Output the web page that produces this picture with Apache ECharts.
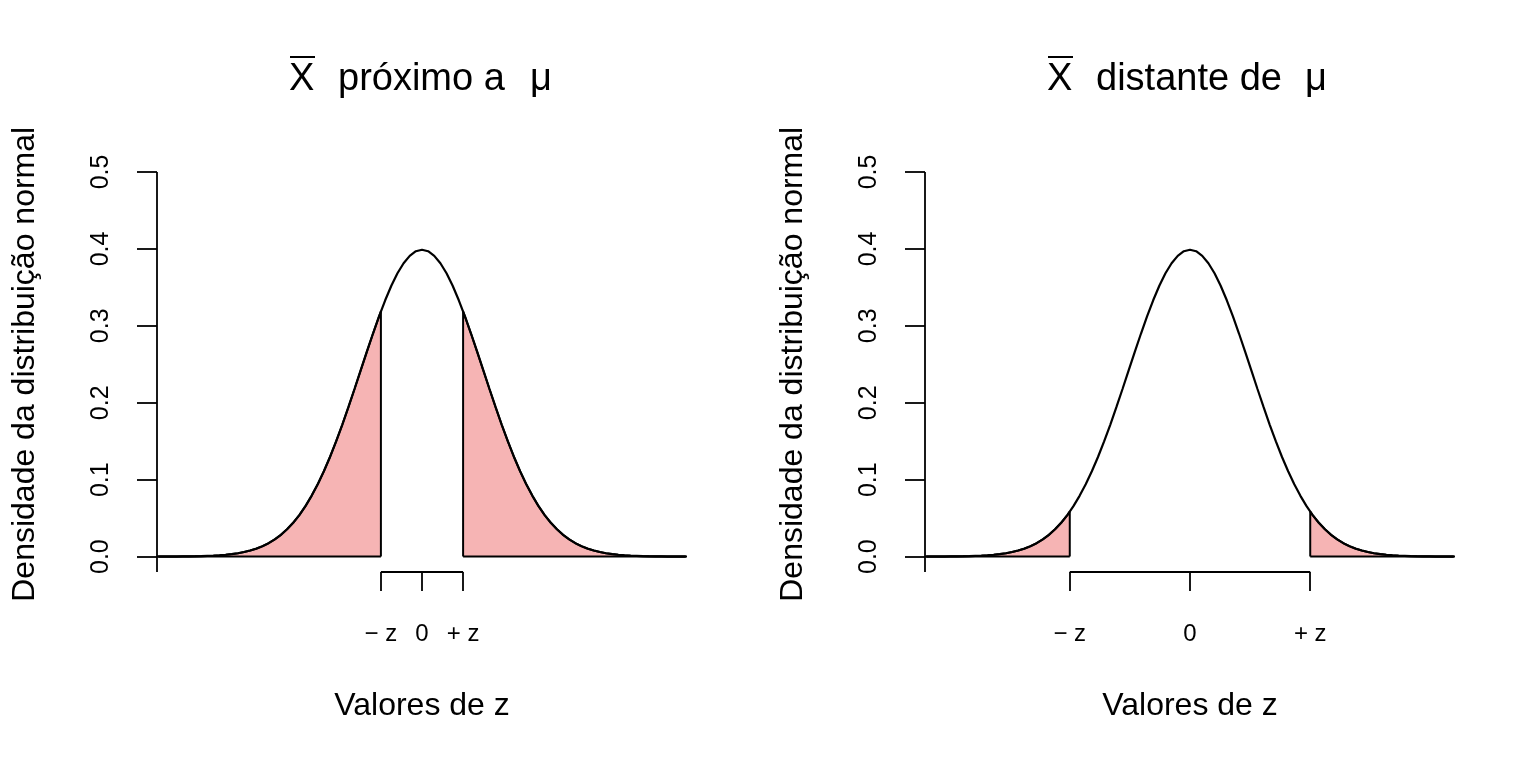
<!DOCTYPE html>
<html>
<head>
<meta charset="utf-8">
<title>Densidade normal</title>
<script src="https://cdn.jsdelivr.net/npm/echarts@6.0.0/dist/echarts.min.js"></script>
<style>
    html, body { margin: 0; padding: 0; background: #fff; }
    #chart { width: 1536px; height: 768px; }
</style>
</head>
<body>
<div id="chart"></div>
<script>
// valores de z e densidade (passo 0.1)
var zValues = [
    -4.3, -4.2, -4.1, -4.0, -3.9, -3.8, -3.7, -3.6, -3.5, -3.4, -3.3, -3.2, -3.1, -3.0,
    -2.9, -2.8, -2.7, -2.6, -2.5, -2.4, -2.3, -2.2, -2.1, -2.0, -1.9, -1.8, -1.7, -1.6,
    -1.5, -1.4, -1.3, -1.2, -1.1, -1.0, -0.9, -0.8, -0.7, -0.6, -0.5, -0.4, -0.3, -0.2,
    -0.1, 0.0, 0.1, 0.2, 0.3, 0.4, 0.5, 0.6, 0.7, 0.8, 0.9, 1.0, 1.1, 1.2, 1.3, 1.4,
    1.5, 1.6, 1.7, 1.8, 1.9, 2.0, 2.1, 2.2, 2.3, 2.4, 2.5, 2.6, 2.7, 2.8, 2.9, 3.0,
    3.1, 3.2, 3.3, 3.4, 3.5, 3.6, 3.7, 3.8, 3.9, 4.0, 4.1, 4.2, 4.3
];
var density = [
    0.0000, 0.0001, 0.0001, 0.0001, 0.0002, 0.0003, 0.0004, 0.0006, 0.0009, 0.0012, 0.0017, 0.0024, 0.0033, 0.0044,
    0.0060, 0.0079, 0.0104, 0.0136, 0.0175, 0.0224, 0.0283, 0.0355, 0.0440, 0.0540, 0.0656, 0.0790, 0.0940, 0.1109,
    0.1295, 0.1497, 0.1714, 0.1942, 0.2179, 0.2420, 0.2661, 0.2897, 0.3123, 0.3332, 0.3521, 0.3683, 0.3814, 0.3910,
    0.3970, 0.3989, 0.3970, 0.3910, 0.3814, 0.3683, 0.3521, 0.3332, 0.3123, 0.2897, 0.2661, 0.2420, 0.2179, 0.1942, 0.1714, 0.1497,
    0.1295, 0.1109, 0.0940, 0.0790, 0.0656, 0.0540, 0.0440, 0.0355, 0.0283, 0.0224, 0.0175, 0.0136, 0.0104, 0.0079, 0.0060, 0.0044,
    0.0033, 0.0024, 0.0017, 0.0012, 0.0009, 0.0006, 0.0004, 0.0003, 0.0002, 0.0001, 0.0001, 0.0001, 0.0000
];
// pontos de corte (z) de cada painel e a densidade nesse ponto
var cutZ = [0.67, 1.96];
var cutDensity = [0.3187, 0.0584];
var panelTitles = ['próximo a', 'distante de'];
var yTicks = [0, 0.1, 0.2, 0.3, 0.4, 0.5];
var yTickLabels = ['0.0', '0.1', '0.2', '0.3', '0.4', '0.5'];
var xTickLabels = ['\u2212 z', '0', '+ z'];

var FONT = '"Liberation Sans", Arial, Helvetica, sans-serif';
var PINK = '#F6B4B4';
// limites da regiao do grafico (estilo R, com 4% de folga)
var X_MIN = -4.32, X_MAX = 4.32, Y_MIN = -0.02, Y_MAX = 0.52;
var Y_AXIS_TOP = 0.5;

var chart = echarts.init(document.getElementById('chart'), null, {renderer: 'canvas'});

function curveData() {
    var out = [];
    for (var i = 0; i < zValues.length; i++) {
        out.push([zValues[i], density[i]]);
    }
    return out;
}

function tailData(p, side) {
    var z = cutZ[p], d = cutDensity[p];
    var out = [];
    if (side < 0) {
        for (var i = 0; i < zValues.length; i++) {
            if (zValues[i] < -z) out.push([zValues[i], density[i]]);
        }
        out.push([-z, d]);
        out.push([-z, 0]);
    } else {
        out.push([z, 0]);
        out.push([z, d]);
        for (var j = 0; j < zValues.length; j++) {
            if (zValues[j] > z) out.push([zValues[j], density[j]]);
        }
    }
    return out;
}

function blackLine(p, data, width) {
    return {
        type: 'line', xAxisIndex: p, yAxisIndex: p, data: data,
        symbol: 'none', silent: true, clip: false,
        lineStyle: {color: '#000', width: width}
    };
}

function titleText(x, y, text) {
    return {
        type: 'text', x: x, y: y,
        style: {
            text: text, font: '38px ' + FONT, fill: '#000',
            textAlign: 'left', textVerticalAlign: 'middle'
        }
    };
}

var grids = [], xAxes = [], yAxes = [], series = [], graphics = [];

for (var p = 0; p < 2; p++) {
    var offset = p * 768;
    var z = cutZ[p];
    grids.push({left: 157 + offset, top: 156.6, width: 530, height: 415.4});

    xAxes.push({
        type: 'value', gridIndex: p, min: X_MIN, max: X_MAX,
        splitLine: {show: false},
        axisLine: {show: false, onZero: false},
        axisTick: {
            show: true, inside: false, length: 19, customValues: [-z, 0, z],
            lineStyle: {color: '#000', width: 1.8}
        },
        axisLabel: {
            show: true, customValues: [-z, 0, z], margin: 50,
            fontFamily: FONT, fontSize: 24, color: '#000',
            formatter: (function (zz) {
                return function (v) {
                    if (Math.abs(v + zz) < 1e-6) return xTickLabels[0];
                    if (Math.abs(v - zz) < 1e-6) return xTickLabels[2];
                    return xTickLabels[1];
                };
            })(z)
        },
        name: 'Valores de z', nameLocation: 'middle', nameGap: 118,
        nameTextStyle: {fontFamily: FONT, fontSize: 32, color: '#000'}
    });

    yAxes.push({
        type: 'value', gridIndex: p, min: Y_MIN, max: Y_MAX,
        splitLine: {show: false},
        axisLine: {show: false, onZero: false},
        axisTick: {
            show: true, inside: false, length: 20, customValues: yTicks,
            lineStyle: {color: '#000', width: 1.8}
        },
        axisLabel: {
            show: true, customValues: yTicks, rotate: 90, margin: 43,
            fontFamily: FONT, fontSize: 25, color: '#000',
            formatter: function (v) {
                var k = Math.round(v * 10);
                return yTickLabels[k];
            }
        },
        name: 'Densidade da distribuição normal', nameLocation: 'middle', nameRotate: 90, nameGap: 116,
        nameTextStyle: {fontFamily: FONT, fontSize: 32, color: '#000'}
    });

    // eixo y: linha do fundo da regiao ate 0.5
    series.push(blackLine(p, [[X_MIN, Y_MIN], [X_MIN, Y_AXIS_TOP]], 1.8));

    // caudas sombreadas
    series.push({
        type: 'line', xAxisIndex: p, yAxisIndex: p, data: tailData(p, -1),
        symbol: 'none', silent: true,
        lineStyle: {color: '#000', width: 2},
        areaStyle: {color: PINK, opacity: 1}
    });
    series.push({
        type: 'line', xAxisIndex: p, yAxisIndex: p, data: tailData(p, 1),
        symbol: 'none', silent: true,
        lineStyle: {color: '#000', width: 2},
        areaStyle: {color: PINK, opacity: 1}
    });
    // base das caudas (nao ha linha entre -z e +z)
    series.push(blackLine(p, [[X_MIN, 0], [-z, 0]], 2));
    series.push(blackLine(p, [[z, 0], [X_MAX, 0]], 2));
    // curva normal
    series.push(blackLine(p, curveData(), 2.2));
    // colchete do eixo x entre -z e +z
    series.push(blackLine(p, [[-z, Y_MIN], [z, Y_MIN]], 1.8));
}

// titulos: X barra, texto, mu (posicoes medidas na figura)
graphics.push(titleText(289, 80, 'X'));
graphics.push(titleText(338, 80, panelTitles[0]));
graphics.push(titleText(530, 80, '\u03bc'));
graphics.push(titleText(1047, 80, 'X'));
graphics.push(titleText(1096, 80, panelTitles[1]));
graphics.push(titleText(1305, 80, '\u03bc'));
graphics.push({type: 'line', shape: {x1: 290, y1: 57, x2: 315, y2: 57}, style: {stroke: '#000', lineWidth: 2}});
graphics.push({type: 'line', shape: {x1: 1048, y1: 57, x2: 1073, y2: 57}, style: {stroke: '#000', lineWidth: 2}});

chart.setOption({
    backgroundColor: '#fff',
    animation: false,
    grid: grids,
    xAxis: xAxes,
    yAxis: yAxes,
    series: series,
    graphic: graphics
});
</script>
</body>
</html>
